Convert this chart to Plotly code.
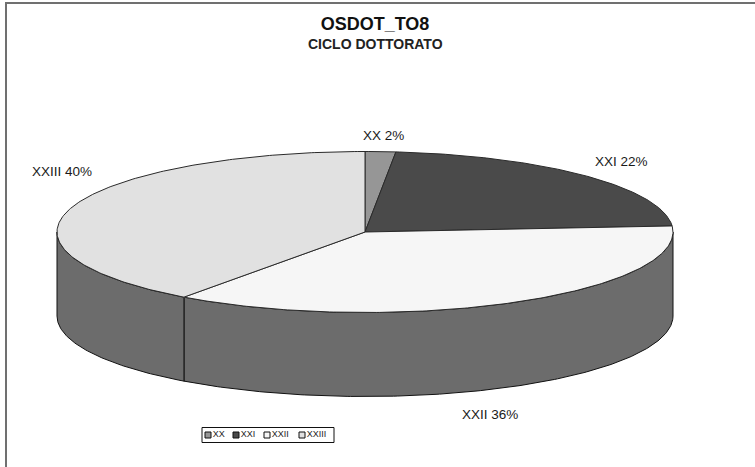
import math
import plotly.graph_objects as go

categories = ["XX", "XXI", "XXII", "XXIII"]
values = [1.6, 22.2, 36.2, 40.0]
top_colors = ["#969696", "#4a4a4a", "#f6f6f6", "#e1e1e1"]
SIDE = "#6c6c6c"
W, H = 755, 467
CX, CY, RX, RY, DEPTH = 365, 232, 308, 80.5, 84


def pt(a, dy=0):
    r = math.radians(a)
    return CX + RX * math.sin(r), CY - RY * math.cos(r) + dy


def arc(a0, a1, dy=0):
    n = max(2, int(abs(a1 - a0) * 1.5))
    return [pt(a0 + (a1 - a0) * i / n, dy) for i in range(n + 1)]


total = sum(values)
fig = go.Figure()
start = 0.0
spans = []
for v in values:
    end = start + 360 * v / total
    spans.append((start, end))
    start = end

# walls of the cylinder: only the front half (90 to 270 degrees) is visible
for (a0, a1), cat in zip(spans, categories):
    lo, hi = max(a0, 90), min(a1, 270)
    if lo >= hi:
        continue
    poly = arc(lo, hi) + arc(hi, lo, DEPTH)
    poly.append(poly[0])
    fig.add_trace(go.Scatter(
        x=[p[0] for p in poly], y=[p[1] for p in poly], mode="lines",
        fill="toself", fillcolor=SIDE, line=dict(color="#111111", width=1),
        showlegend=False, hoverinfo="skip"))

# top faces
for (a0, a1), cat, col in zip(spans, categories, top_colors):
    poly = [(CX, CY)] + arc(a0, a1) + [(CX, CY)]
    fig.add_trace(go.Scatter(
        x=[p[0] for p in poly], y=[p[1] for p in poly], mode="lines",
        fill="toself", fillcolor=col, line=dict(color="#2a2a2a", width=1),
        name=cat, showlegend=False, hoverinfo="name"))

# compact key, narrower than a native legend's minimum swatch allows
key_x = [208, 236, 267, 302]
KEY_Y = 435
for cat, col, kx in zip(categories, top_colors, key_x):
    fig.add_trace(go.Scatter(
        x=[kx], y=[KEY_Y], mode="markers+text", text=[cat], textposition="middle right",
        textfont=dict(size=9, color="#222222"),
        marker=dict(symbol="square", size=6, color=col, line=dict(color="#111111", width=1)),
        showlegend=False, hoverinfo="skip"))

label_pos = {"XX": (383, 135), "XXI": (621, 161), "XXII": (489.5, 414), "XXIII": (62, 171)}
for cat, v in zip(categories, values):
    x, y = label_pos[cat]
    fig.add_annotation(x=x, y=y, text=f"{cat} {round(v)}%", showarrow=False,
                       font=dict(size=13.5, color="#1a1a1a"))

fig.add_annotation(x=375, y=44, text="<b>CICLO DOTTORATO</b>", showarrow=False,
                   font=dict(size=14, color="#222222"))

fig.update_layout(
    width=W, height=H, autosize=False,
    margin=dict(l=0, r=0, t=0, b=0),
    paper_bgcolor="white", plot_bgcolor="white",
    font=dict(family="Liberation Sans, Arial, sans-serif", color="#111111"),
    title=dict(text="<b>OSDOT_TO8</b>", x=375 / W, xanchor="center",
               y=1 - 24 / H, yanchor="middle", font=dict(size=18, color="#111111")),
    xaxis=dict(range=[0, W], visible=False, fixedrange=True),
    yaxis=dict(range=[H, 0], visible=False, fixedrange=True),
    showlegend=False,
    shapes=[
        dict(type="line", xref="paper", yref="paper", x0=6 / W, x1=6 / W, y0=0, y1=1 - 2 / H,
             line=dict(color="#707070", width=2)),
        dict(type="line", xref="paper", yref="paper", x0=5 / W, x1=1, y0=1 - 3 / H, y1=1 - 3 / H,
             line=dict(color="#707070", width=2)),
        dict(type="rect", xref="x", yref="y", x0=202, x1=334, y0=427.5, y1=442.5,
             line=dict(color="#111111", width=1), layer="below"),
    ],
)
fig.write_html("out.html", config={"displayModeBar": False},
               post_script="document.body.style.margin='0';")
